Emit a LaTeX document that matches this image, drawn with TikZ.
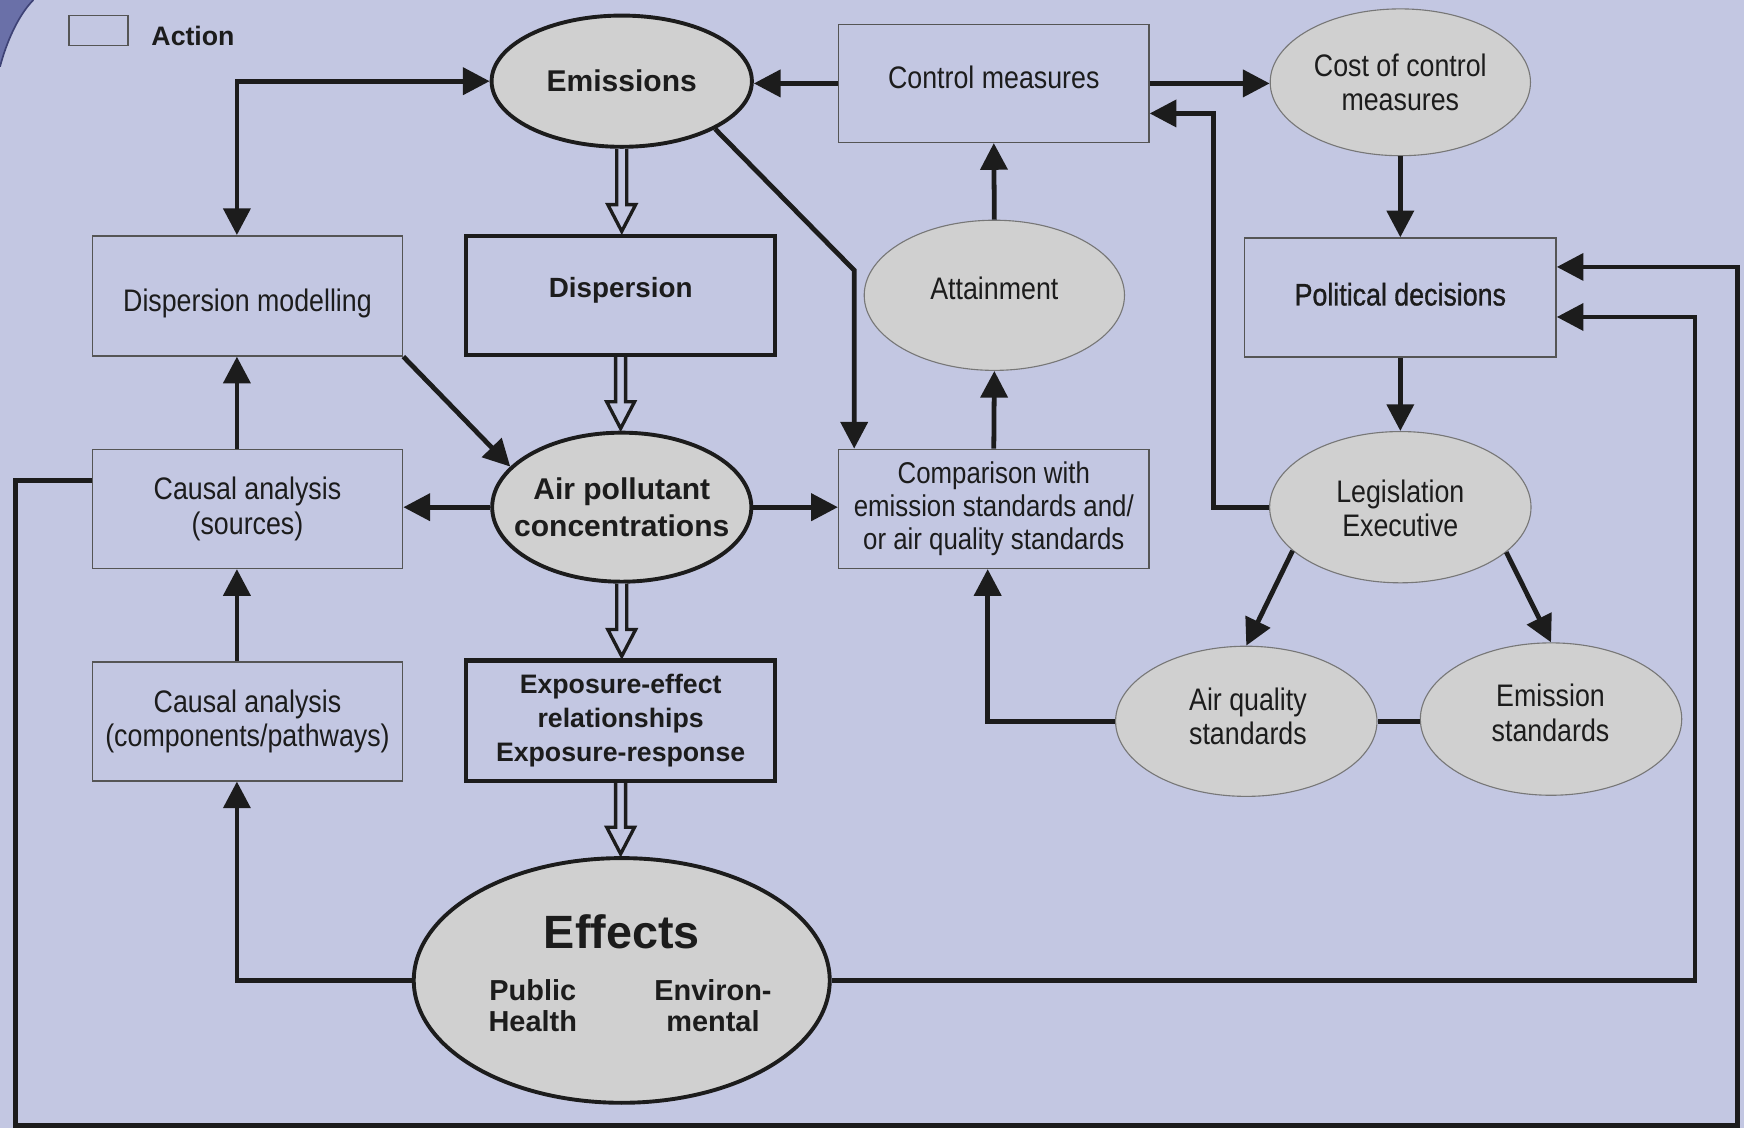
\documentclass[tikz,border=0pt]{standalone}
\usepackage{fontspec}
\setmainfont{Liberation Sans}
\newfontfamily\narrowfont[FakeStretch=0.86]{Liberation Sans}
\newfontfamily\narrowbold[FakeStretch=0.86,FakeBold=1]{Liberation Sans}
\usetikzlibrary{arrows.meta,shapes.geometric,calc}
\definecolor{bg}{HTML}{C3C7E2}
\definecolor{ellfill}{HTML}{D0D0D0}
\definecolor{ink}{HTML}{1C1C1C}
\definecolor{thinline}{HTML}{555555}
\definecolor{cornerblue}{HTML}{6A70A8}
\definecolor{corneredge}{HTML}{3E4275}
\newcommand\hollowdown[2]{%
  \draw[hollow] let \p1=(#1.south), \p2=(#2.north) in
    (\x1-4.5pt,\y1) -- (\x1-4.5pt,\y2+26pt) -- (\x1-12.5pt,\y2+26pt) -- (\x1,\y2+2pt)
    -- (\x1+12.5pt,\y2+26pt) -- (\x1+4.5pt,\y2+26pt) -- (\x1+4.5pt,\y1);}
\begin{document}
\begin{tikzpicture}[x=1pt,y=-1pt,
  >={Triangle[length=24pt,width=24pt]},
  conn/.style={draw=ink,line width=4.3pt},
  hollow/.style={draw=ink,line width=3pt,fill=bg,line join=miter},
  box/.style={rectangle,draw=thinline,line width=1.3pt,fill=bg,inner sep=0pt,
    align=center,text=ink,font=\narrowfont\fontsize{28}{31}\selectfont},
  tbox/.style={rectangle,draw=ink,line width=4pt,fill=bg,inner sep=0pt,
    align=center,text=ink},
  ell/.style={ellipse,draw=thinline!80,line width=1pt,fill=ellfill,inner sep=0pt},
  tell/.style={ellipse,draw=ink,line width=3.5pt,fill=ellfill,inner sep=0pt},
  ntxt/.style={align=center,text=ink,inner sep=0pt,font=\narrowfont\fontsize{28}{31}\selectfont},
  btxt/.style={align=center,text=ink,inner sep=0pt,font=\bfseries\fontsize{27}{33}\selectfont},
]
\useasboundingbox (0,0) rectangle (1568,1014);
\fill[bg] (0,0) rectangle (1568,1014);
% top-left corner
\fill[cornerblue] (0,0) -- (30,0) .. controls (20,10) and (8,30) .. (0,60) -- cycle;
\draw[corneredge,line width=1.5pt] (30,0) .. controls (20,10) and (8,30) .. (0,60);

% legend
\node[rectangle,draw=thinline,line width=1.3pt,fill=bg,minimum width=53,minimum height=27] (legend) at (88.5,27.5) {};
\node[anchor=west,text=ink,inner sep=0pt,font=\bfseries\fontsize{24}{26}\selectfont] (legtxt) at (136,32) {Action};

% nodes
\node[tell,minimum width=234,minimum height=118] (emis) at (559,73) {};
\node[btxt] (emistxt) at (emis) {Emissions};
\node[box,minimum width=279,minimum height=106] (ctrl) at (893.5,75) {\raisebox{12pt}{Control measures}};
\node[ell,minimum width=234,minimum height=132] (cost) at (1259,74) {};
\node[ntxt] (costtxt) at (1259,74) {Cost of control\\measures};

\node[box,minimum width=279,minimum height=108] (dmod) at (222.5,266) {\rule{0pt}{34pt}Dispersion modelling};
\node[tbox,minimum width=278,minimum height=107,font=\bfseries\fontsize{25}{30}\selectfont] (disp) at (558,265.5) {\raisebox{14pt}{Dispersion}};
\node[ell,minimum width=234,minimum height=135] (att) at (894,265.5) {};
\node[ntxt] (atttxt) at (894,259) {Attainment};
\node[box,minimum width=280,minimum height=107,font=\narrowbold\fontsize{28}{31}\selectfont] (pol) at (1259,267.5) {\raisebox{6pt}{Political decisions}};

\node[box,minimum width=279,minimum height=107] (csrc) at (222.5,457.5) {Causal analysis\\(sources)};
\node[tell,minimum width=233,minimum height=134] (air) at (559,456) {};
\node[btxt] (airtxt) at (559,456) {Air pollutant\\concentrations};
\node[box,minimum width=279,minimum height=107,font=\narrowfont\fontsize{27}{30}\selectfont] (comp) at (893.5,457.5) {Comparison with\\emission standards and/\\or air quality standards};
\node[ell,minimum width=235,minimum height=136] (leg) at (1259,456) {};
\node[ntxt] (legtxt2) at (1259,457) {Legislation\\Executive};

\node[box,minimum width=279,minimum height=107] (ccomp) at (222.5,648.5) {Causal analysis\\(components/pathways)};
\node[tbox,minimum width=278,minimum height=108,font=\bfseries\fontsize{24}{30.5}\selectfont] (expo) at (558,648) {Exposure-effect\\relationships\\Exposure-response};
\node[ell,minimum width=235,minimum height=135] (aq) at (1120.5,648.5) {};
\node[ntxt] (aqtxt) at (1122,644) {Air quality\\standards};
\node[ell,minimum width=235,minimum height=137] (ems) at (1394.5,646.5) {};
\node[ntxt] (emstxt) at (1394,641) {Emission\\standards};

\node[tell,minimum width=374,minimum height=220] (eff) at (559,881.5) {};
\node[text=ink,inner sep=0pt,font=\bfseries\fontsize{42}{44}\selectfont] (efftxt) at (559,838) {Effects};
\node[text=ink,inner sep=0pt,align=center,font=\bfseries\fontsize{26}{28}\selectfont] (pubtxt) at (479,904) {Public\\Health};
\node[text=ink,inner sep=0pt,align=center,font=\bfseries\fontsize{26}{28}\selectfont] (envtxt) at (641,904) {Environ-\\mental};

% helper coordinates
\coordinate (lx) at (213,0);
\coordinate (bend) at (768,243);
\coordinate (fl) at (14,1012);
\coordinate (fr) at (1562,1012);
\coordinate (ri) at (1524,0);
\coordinate (vx) at (1091,0);
\coordinate (cin) at ([yshift=-27pt]ctrl.east);

% connectors
\draw[conn,<->] (lx |- dmod.north) |- (emis.west);
\draw[conn,->] (ctrl.west) -- (ctrl.west -| emis.east);
\draw[conn,->] (ctrl.east) -- (ctrl.east -| cost.west);
\draw[conn,->] (cost.south) -- (pol.north);
\draw[conn,->] (emis.south east) -- (bend) -- (bend |- comp.north);
\draw[conn,->] (dmod.south east) -- (air.160);
\draw[conn,->] (air.west) -- (air.west -| csrc.east);
\draw[conn,->] (air.east) -- (air.east -| comp.west);
\draw[conn,->] (lx |- csrc.north) -- (lx |- dmod.south);
\draw[conn,->] (lx |- ccomp.north) -- (lx |- csrc.south);
\draw[conn,->] (eff.west) -| (lx |- ccomp.south);
\draw[conn,->] (eff.east) -- (eff.east -| ri) |- ([yshift=-17.5pt]pol.east);
\draw[conn,->] ([yshift=25.5pt]csrc.west) -| (fl) -- (fr) |- ([yshift=27.5pt]pol.east);
\draw[conn,->] (comp.north) -- (att.south);
\draw[conn,->] (att.north) -- (ctrl.south);
\draw[conn,->] (aq.west) -| ([xshift=-5.5pt]comp.south);
\draw[conn,->] (pol.south) -- (leg.north);
\draw[conn,->] (leg.west) -| (vx |- cin) -- (cin);
\draw[conn,->] (leg.202) -- (aq.north);
\draw[conn,->] (leg.-23) -- (ems.north);
\draw[conn] (aq.east) -- (aq.east -| ems.west);

% hollow arrows
\hollowdown{emis}{disp}
\hollowdown{disp}{air}
\hollowdown{air}{expo}
\hollowdown{expo}{eff}
\end{tikzpicture}
\end{document}
